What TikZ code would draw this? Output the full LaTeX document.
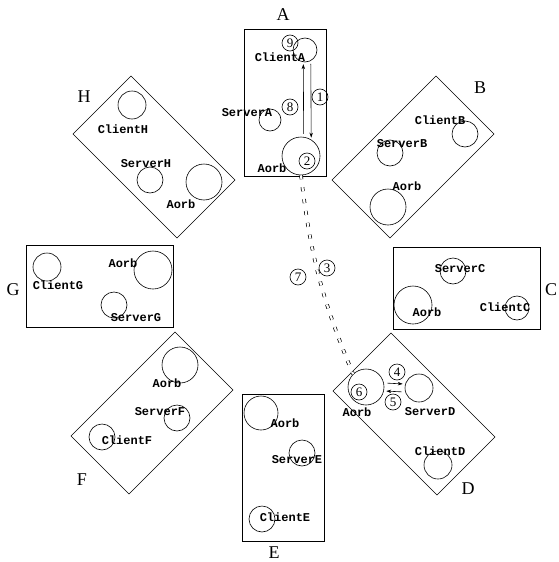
\documentclass[tikz,border=0pt]{standalone}
\usepackage{fontspec}
\setmainfont{Liberation Serif}
\newfontfamily\labelfont{Liberation Mono}
\usetikzlibrary{positioning,arrows.meta}

\begin{document}
\begin{tikzpicture}[
    x=1pt, y=-1pt,
    line width=0.6pt,
    unit/.style={rectangle, draw, minimum width=82pt, minimum height=147pt, inner sep=0pt},
    ring/.style={circle, draw, inner sep=0pt, minimum size=#1},
    ring/.default=26pt,
    tag/.style={font=\labelfont\bfseries\fontsize{12}{12}\selectfont, inner sep=0pt},
    site/.style={font=\fontsize{18}{18}\selectfont, inner sep=0pt},
    stepnum/.style={circle, draw, inner sep=0pt, minimum size=16pt, font=\fontsize{13}{13}\selectfont},
    msg/.style={-{Stealth[length=5pt,width=3.5pt]}, shorten >=2pt, shorten <=3pt},
    link/.style={double, line width=0.7pt, double distance=2.2pt, dash pattern=on 4pt off 8pt}
]
  \useasboundingbox (0,0) rectangle (558,562);

  % the eight hosts
  \node[unit] (boxA) at (285,103) {};
  \node[unit, rotate=-45] (boxB) at (413,157) {};
  \node[unit, rotate=90] (boxC) at (467,288) {};
  \node[unit, rotate=45] (boxD) at (414,414) {};
  \node[unit] (boxE) at (283,468) {};
  \node[unit, rotate=-45] (boxF) at (152,413) {};
  \node[unit, rotate=90] (boxG) at (100,286) {};
  \node[unit, rotate=45] (boxH) at (154,157) {};

  \node[site] (siteA) at (283,15) {A};
  \node[site] (siteB) at (480,88) {B};
  \node[site] (siteC) at (551,290) {C};
  \node[site] (siteD) at (468,489) {D};
  \node[site] (siteE) at (274,553) {E};
  \node[site] (siteF) at (82,480) {F};
  \node[site] (siteG) at (13,290) {G};
  \node[site] (siteH) at (84,97) {H};

  % host A
  \node[ring=24pt] (cliA) at (305,50) {};
  \node[ring=22pt] (srvA) at (270,120) {};
  \node[ring=38pt] (orbA) at (301,156) {};
  \node[tag] (tCliA) at (280,57) {ClientA};
  \node[tag] (tSrvA) at (247,113) {ServerA};
  \node[tag] (tOrbA) at (272,168) {Aorb};

  % host B
  \node[ring=26pt] (cliB) at (465,134) {};
  \node[ring=26pt] (srvB) at (390,153) {};
  \node[ring=36pt] (orbB) at (388,207) {};
  \node[tag] (tCliB) at (440,120) {ClientB};
  \node[tag] (tSrvB) at (402,144) {ServerB};
  \node[tag] (tOrbB) at (407,186) {Aorb};

  % host C
  \node[ring=26pt] (srvC) at (453,271) {};
  \node[ring=38pt] (orbC) at (413,305) {};
  \node[ring=24pt] (cliC) at (517,308) {};
  \node[tag] (tSrvC) at (460,269) {ServerC};
  \node[tag] (tOrbC) at (427,312) {Aorb};
  \node[tag] (tCliC) at (505,307) {ClientC};

  % host D
  \node[ring=36pt] (orbD) at (366,387) {};
  \node[ring=28pt] (srvD) at (419,388) {};
  \node[ring=28pt] (cliD) at (438,465) {};
  \node[tag] (tOrbD) at (357,412) {Aorb};
  \node[tag] (tSrvD) at (430,412) {ServerD};
  \node[tag] (tCliD) at (440,451) {ClientD};

  % host E
  \node[ring=34pt] (orbE) at (261,413) {};
  \node[ring=26pt] (srvE) at (302,453) {};
  \node[ring=26pt] (cliE) at (262,519) {};
  \node[tag] (tOrbE) at (285,423) {Aorb};
  \node[tag] (tSrvE) at (297,460) {ServerE};
  \node[tag] (tCliE) at (285,517) {ClientE};

  % host F
  \node[ring=36pt] (orbF) at (180,365) {};
  \node[ring=26pt] (srvF) at (177,418) {};
  \node[ring=26pt] (cliF) at (102,437) {};
  \node[tag] (tOrbF) at (167,383) {Aorb};
  \node[tag] (tSrvF) at (160,412) {ServerF};
  \node[tag] (tCliF) at (127,440) {ClientF};

  % host G
  \node[ring=28pt] (cliG) at (47,267) {};
  \node[ring=38pt] (orbG) at (153,270) {};
  \node[ring=26pt] (srvG) at (114,305) {};
  \node[tag] (tCliG) at (58,285) {ClientG};
  \node[tag] (tOrbG) at (123,263) {Aorb};
  \node[tag] (tSrvG) at (136,318) {ServerG};

  % host H
  \node[ring=28pt] (cliH) at (132,105) {};
  \node[ring=26pt] (srvH) at (150,180) {};
  \node[ring=36pt] (orbH) at (204,182) {};
  \node[tag] (tCliH) at (123,129) {ClientH};
  \node[tag] (tSrvH) at (146,164) {ServerH};
  \node[tag] (tOrbH) at (181,204) {Aorb};

  % message flow
  \draw[msg] (cliA.-62) -- (orbA.58);
  \draw[msg] (orbA.82) -- (cliA.-98);
  \draw[link] (orbA.south) to[bend right=8] (orbD.135);
  \draw[msg] ([yshift=4pt]orbD.east) -- ([yshift=4pt]srvD.west);
  \draw[msg] ([yshift=-4pt]srvD.west) -- ([yshift=-4pt]orbD.east);

  \node[stepnum] (n1) at (320,97) {1};
  \node[stepnum] (n2) at (307,161) {2};
  \node[stepnum] (n3) at (327,268) {3};
  \node[stepnum] (n4) at (397,372) {4};
  \node[stepnum] (n5) at (393,402) {5};
  \node[stepnum] (n6) at (359,392) {6};
  \node[stepnum] (n7) at (298,277) {7};
  \node[stepnum] (n8) at (290,107) {8};
  \node[stepnum] (n9) at (290,43) {9};
\end{tikzpicture}
\end{document}
